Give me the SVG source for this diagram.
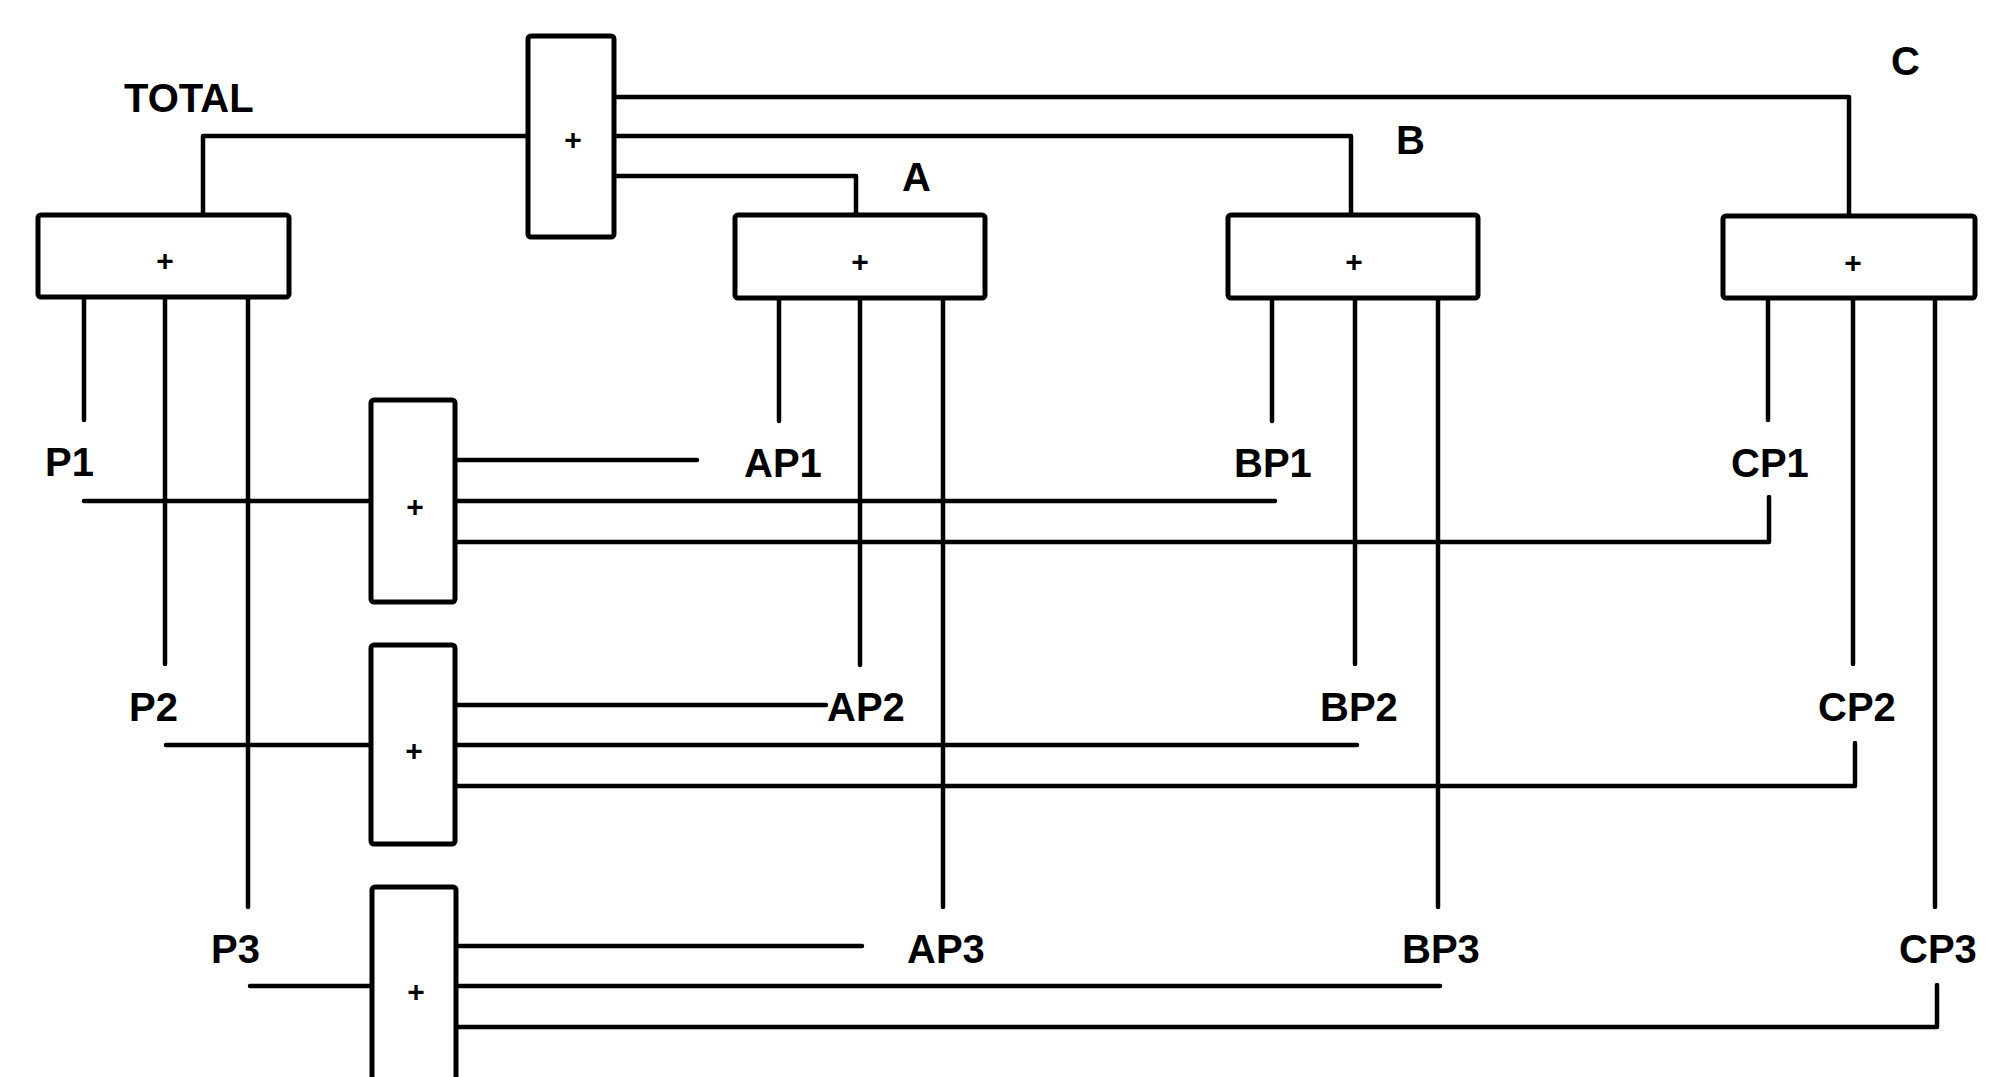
<svg xmlns="http://www.w3.org/2000/svg" width="1995" height="1077" viewBox="0 0 1995 1077">
<style>
.box{fill:#fff;stroke:#000;stroke-width:5}
.ln{fill:none;stroke:#000;stroke-width:4.5;stroke-linecap:round;stroke-linejoin:round}
.lbl{font-family:"Liberation Sans",Arial,sans-serif;font-size:40px;font-weight:bold;fill:#000}
.pl{font-family:"Liberation Sans",Arial,sans-serif;font-size:30px;font-weight:bold;fill:#000;text-anchor:middle}
</style>
<rect width="1995" height="1077" fill="#fff"/>
<g id="connectors" class="ln">
<path d="M528 136 H203 V215"/>
<path d="M614 176 H856 V215"/>
<path d="M614 136 H1351 V216"/>
<path d="M614 97 H1849 V217"/>
<path d="M84 298 V420"/>
<path d="M165 298 V664"/>
<path d="M248 298 V907"/>
<path d="M779 298 V421"/>
<path d="M860 298 V665"/>
<path d="M943 298 V907"/>
<path d="M1272 298 V421"/>
<path d="M1355 298 V664"/>
<path d="M1438 298 V907"/>
<path d="M1768 298 V420"/>
<path d="M1853 298 V664"/>
<path d="M1935 298 V907"/>
<path d="M84 501 H371"/>
<path d="M166 745 H371"/>
<path d="M250 986 H372"/>
<path d="M455 460 H697"/>
<path d="M455 501 H1275"/>
<path d="M455 542 H1769 V497"/>
<path d="M455 705 H826"/>
<path d="M455 745 H1357"/>
<path d="M455 786 H1855 V743"/>
<path d="M455 946 H862"/>
<path d="M455 986 H1440"/>
<path d="M455 1027 H1937 V985"/>
</g>
<g id="sum-top"><rect class="box" x="528" y="36" width="86" height="201" rx="3"/><text class="pl" x="573" y="150">+</text></g>
<g id="sum-total"><rect class="box" x="38" y="215" width="251" height="82" rx="3"/><text class="pl" x="165" y="271">+</text></g>
<g id="sum-a"><rect class="box" x="735" y="215" width="250" height="83" rx="3"/><text class="pl" x="860" y="272">+</text></g>
<g id="sum-b"><rect class="box" x="1228" y="215" width="250" height="83" rx="3"/><text class="pl" x="1354" y="272">+</text></g>
<g id="sum-c"><rect class="box" x="1723" y="216" width="252" height="82" rx="3"/><text class="pl" x="1853" y="273">+</text></g>
<g id="sum-p1"><rect class="box" x="371" y="400" width="84" height="202" rx="3"/><text class="pl" x="415" y="517">+</text></g>
<g id="sum-p2"><rect class="box" x="371" y="645" width="84" height="199" rx="3"/><text class="pl" x="414" y="761">+</text></g>
<g id="sum-p3"><rect class="box" x="372" y="887" width="84" height="210" rx="3"/><text class="pl" x="416" y="1002">+</text></g>
<g id="labels" class="lbl">
<g id="lbl-total"><text x="124" y="112">TOTAL</text></g>
<g id="lbl-a"><text x="902" y="191">A</text></g>
<g id="lbl-b"><text x="1396" y="154">B</text></g>
<g id="lbl-c"><text x="1891" y="75">C</text></g>
<g id="lbl-p1"><text x="45" y="476">P1</text></g>
<g id="lbl-ap1"><text x="744" y="477">AP1</text></g>
<g id="lbl-bp1"><text x="1234" y="477">BP1</text></g>
<g id="lbl-cp1"><text x="1731" y="477">CP1</text></g>
<g id="lbl-p2"><text x="129" y="721">P2</text></g>
<g id="lbl-ap2"><text x="827" y="721">AP2</text></g>
<g id="lbl-bp2"><text x="1320" y="721">BP2</text></g>
<g id="lbl-cp2"><text x="1818" y="721">CP2</text></g>
<g id="lbl-p3"><text x="211" y="963">P3</text></g>
<g id="lbl-ap3"><text x="907" y="963">AP3</text></g>
<g id="lbl-bp3"><text x="1402" y="963">BP3</text></g>
<g id="lbl-cp3"><text x="1899" y="963">CP3</text></g>
</g>
</svg>
